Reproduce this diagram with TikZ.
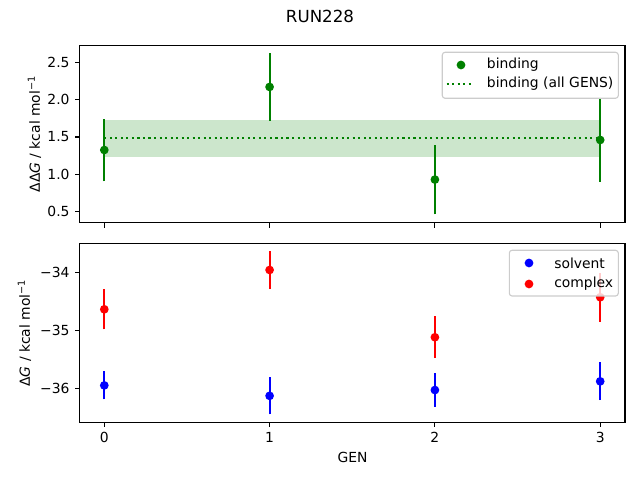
\documentclass[tikz,border=0pt]{standalone}
\usepackage{fontspec}
\setmainfont{DejaVu Sans}
\definecolor{mplgreen}{RGB}{0,128,0}
\definecolor{legendedge}{RGB}{204,204,204}
\tikzset{
    axisline/.style={line width=0.8pt},
    tickmark/.style={line width=0.8pt},
    errbar/.style={line width=1.5pt},
    dot/.style={circle, fill, inner sep=0pt, minimum size=6.3pt},
    ticklabel/.style={inner sep=0pt},
    legendbox/.style={draw=legendedge, fill=white, fill opacity=0.8, line width=0.8pt, rounded corners=2pt},
}
\begin{document}
\begin{tikzpicture}[x=0.72pt, y=0.72pt, font=\fontsize{10}{12}\selectfont]
    \useasboundingbox (0,0) rectangle (640,480);

    % Draw title
    \node[font=\fontsize{12}{14}\selectfont] (title) at (320,464) {RUN228};

    % Draw top axes (binding)
    \begin{scope}[shift={(75.096pt,166.284pt)}, x=119.016pt, y=53.784pt]
        \fill[mplgreen, opacity=0.2] (0,1.236) rectangle (3,1.728);
        \draw[mplgreen, line width=1.5pt, dash pattern=on 1.5pt off 2.475pt] (0,1.482) -- (3,1.482);
        \foreach \gx/\gy/\ge in {0/1.326/0.42, 1/2.170/0.45, 2/0.930/0.465, 3/1.460/0.56} {
            \draw[errbar, mplgreen] (\gx,\gy-\ge) -- (\gx,\gy+\ge);
            \node[dot, mplgreen] (bind\gx) at (\gx,\gy) {};
        }
        \draw[axisline] (-0.15,0.353) rectangle (3.15,2.728);
        \foreach \gx in {0,...,3}
            \draw[tickmark] (\gx,0.353) -- ++(0,-3.5pt);
        \foreach \gy [count=\k] in {0.5,1.0,1.5,2.0,2.5} {
            \draw[tickmark] (-0.15,\gy) -- ++(-3.5pt,0);
            \node[ticklabel, anchor=east] (ttick\k) at ([xshift=-7pt]-0.15,\gy) {\gy};
        }
    \end{scope}

    % Draw bottom axes (solvent and complex)
    \begin{scope}[shift={(75.096pt,1569.384pt)}, x=119.016pt, y=41.76pt]
        \foreach \gx/\gy/\ge in {0/-35.950/0.24, 1/-36.130/0.32, 2/-36.030/0.29, 3/-35.880/0.325} {
            \draw[errbar, blue] (\gx,\gy-\ge) -- (\gx,\gy+\ge);
            \node[dot, blue] (solv\gx) at (\gx,\gy) {};
        }
        \foreach \gx/\gy/\ge in {0/-34.638/0.345, 1/-33.960/0.33, 2/-35.120/0.36, 3/-34.430/0.42} {
            \draw[errbar, red] (\gx,\gy-\ge) -- (\gx,\gy+\ge);
            \node[dot, red] (cplx\gx) at (\gx,\gy) {};
        }
        \draw[axisline] (-0.15,-36.586) rectangle (3.15,-33.507);
        \foreach \gx in {0,...,3} {
            \draw[tickmark] (\gx,-36.586) -- ++(0,-3.5pt);
            \node[ticklabel, anchor=north] (xtick\gx) at ([yshift=-7pt]\gx,-36.586) {\gx};
        }
        \foreach \gy/\glab [count=\k] in {-34/−34, -35/−35, -36/−36} {
            \draw[tickmark] (-0.15,\gy) -- ++(-3.5pt,0);
            \node[ticklabel, anchor=east] (btick\k) at ([xshift=-7pt]-0.15,\gy) {\glab};
        }
    \end{scope}

    % Draw axis labels
    \node (xlabel) at (352.5,23) {GEN};
    \node[rotate=90] (ylabeltop) at (34.5,346) {ΔΔ\textit{G} / kcal mol\textsuperscript{−1}};
    \node[rotate=90] (ylabelbot) at (24.5,147) {Δ\textit{G} / kcal mol\textsuperscript{−1}};

    % Draw legends
    \draw[legendbox] (442.3,381.7) rectangle (618.3,427.7);
    \node[dot, mplgreen] (legbind) at (461,415) {};
    \node[anchor=west, inner sep=0pt] (legbindtext) at (486.7,415) {binding};
    \coordinate (legmeanA) at (446.7,396);
    \coordinate (legmeanB) at (474.3,396);
    \draw[mplgreen, line width=1.5pt, dash pattern=on 1.5pt off 2.475pt] (legmeanA) -- (legmeanB);
    \node[anchor=west, inner sep=0pt] (legmeantext) at (486.7,396) {binding (all GENS)};

    \draw[legendbox] (509.3,184) rectangle (618.3,229.7);
    \node[dot, blue] (legsolv) at (529,217) {};
    \node[anchor=west, inner sep=0pt] (legsolvtext) at (554,217) {solvent};
    \node[dot, red] (legcplx) at (529,196) {};
    \node[anchor=west, inner sep=0pt] (legcplxtext) at (554,196) {complex};
\end{tikzpicture}
\end{document}
